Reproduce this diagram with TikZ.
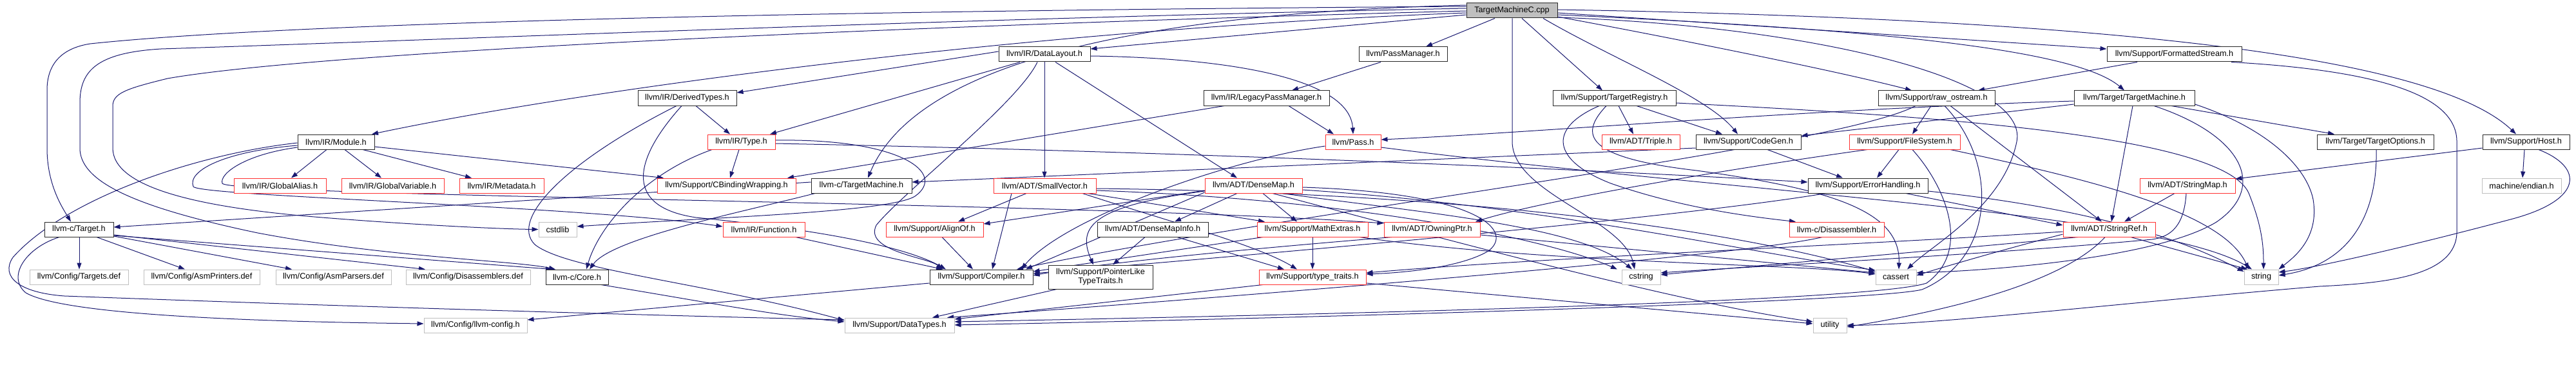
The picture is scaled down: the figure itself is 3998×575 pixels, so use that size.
\documentclass[tikz,border=0pt]{standalone}
\usepackage{fontspec}
\setmainfont{Liberation Sans}
\usetikzlibrary{arrows.meta}
\definecolor{edgec}{RGB}{25,25,112}
\definecolor{nred}{RGB}{255,50,50}
\definecolor{ngray}{RGB}{191,191,191}
\definecolor{nblack}{RGB}{40,40,40}
\pgfdeclarelayer{bg}
\pgfsetlayers{bg,main}
\tikzset{
  bx/.style={draw=nblack, line width=1pt, fill=white, inner sep=0pt, minimum height=23pt,
     font=\fontsize{12.7}{14}\selectfont, align=center},
  rbx/.style={bx, draw=nred},
  gbx/.style={bx, draw=ngray},
  rootbx/.style={bx, fill=ngray},
  ed/.style={draw=edgec, line width=1pt, -{Triangle[length=10pt,width=7pt]}}
}
\begin{document}
\begin{tikzpicture}[x=1pt,y=-1pt]
\useasboundingbox (0,0) rectangle (3998,575);
% row 0
\node[rootbx, minimum width=141] (R) at (2346.5,16.5) {TargetMachineC.cpp};
% row 1
\node[bx, minimum width=142] (DL) at (1621,84.5) {llvm/IR/DataLayout.h};
\node[bx, minimum width=137] (PM) at (2177.5,84.5) {llvm/PassManager.h};
\node[bx, minimum width=209] (FS) at (3374.5,84.5) {llvm/Support/FormattedStream.h};
% row 2
\node[bx, minimum width=153] (DT) at (1066.5,152.5) {llvm/IR/DerivedTypes.h};
\node[bx, minimum width=195] (LPM) at (1965.5,152.5) {llvm/IR/LegacyPassManager.h};
\node[bx, minimum width=191] (TR) at (2505.5,152.5) {llvm/Support/TargetRegistry.h};
\node[bx, minimum width=181] (RO) at (3005.5,152.5) {llvm/Support/raw\_ostream.h};
\node[bx, minimum width=187] (TTM) at (3312.5,152.5) {llvm/Target/TargetMachine.h};
% row 3
\node[bx, minimum width=119] (MOD) at (521.5,220.5) {llvm/IR/Module.h};
\node[rbx, minimum width=105] (TY) at (1150.5,220.5) {llvm/IR/Type.h};
\node[rbx, minimum width=86] (PS) at (2100,220.5) {llvm/Pass.h};
\node[rbx, minimum width=121] (TRI) at (2546.5,220.5) {llvm/ADT/Triple.h};
\node[bx, minimum width=163] (CG) at (2713.5,220.5) {llvm/Support/CodeGen.h};
\node[rbx, minimum width=172] (FSY) at (2956,220.5) {llvm/Support/FileSystem.h};
\node[bx, minimum width=181] (TO) at (3686.5,220.5) {llvm/Target/TargetOptions.h};
\node[bx, minimum width=135] (HO) at (3920.5,220.5) {llvm/Support/Host.h};
% row 4
\node[rbx, minimum width=143] (GA) at (434.5,288.5) {llvm/IR/GlobalAlias.h};
\node[rbx, minimum width=159] (GV) at (609.5,288.5) {llvm/IR/GlobalVariable.h};
\node[rbx, minimum width=131] (MD) at (778.5,288.5) {llvm/IR/Metadata.h};
\node[rbx, minimum width=215] (CB) at (1127.5,288.5) {llvm/Support/CBindingWrapping.h};
\node[bx, minimum width=156] (CTM) at (1337,288.5) {llvm-c/TargetMachine.h};
\node[rbx, minimum width=159] (SV) at (1621.5,288.5) {llvm/ADT/SmallVector.h};
\node[rbx, minimum width=151] (DM) at (1945.5,288.5) {llvm/ADT/DenseMap.h};
\node[bx, minimum width=186] (EH) at (2899,288.5) {llvm/Support/ErrorHandling.h};
\node[rbx, minimum width=148] (SM) at (3395,288.5) {llvm/ADT/StringMap.h};
\node[gbx, minimum width=123] (EN) at (3913.5,288.5) {machine/endian.h};
% row 5
\node[bx, minimum width=107] (CT) at (122.5,356.5) {llvm-c/Target.h};
\node[gbx, minimum width=59] (CSL) at (865.5,356.5) {cstdlib};
\node[rbx, minimum width=127] (FN) at (1185.5,356.5) {llvm/IR/Function.h};
\node[rbx, minimum width=151] (AO) at (1450.5,356.5) {llvm/Support/AlignOf.h};
\node[bx, minimum width=172] (DMI) at (1789,356.5) {llvm/ADT/DenseMapInfo.h};
\node[rbx, minimum width=172] (ME) at (2037,356.5) {llvm/Support/MathExtras.h};
\node[rbx, minimum width=149] (OP) at (2222.5,356.5) {llvm/ADT/OwningPtr.h};
\node[rbx, minimum width=147] (DIS) at (2850.5,356.5) {llvm-c/Disassembler.h};
\node[rbx, minimum width=143] (SR) at (3273.5,356.5) {llvm/ADT/StringRef.h};
% row 6
\node[gbx, minimum width=153] (TD) at (122.5,430.5) {llvm/Config/Targets.def};
\node[gbx, minimum width=180] (AP) at (313,430.5) {llvm/Config/AsmPrinters.def};
\node[gbx, minimum width=179] (APA) at (517.5,430.5) {llvm/Config/AsmParsers.def};
\node[gbx, minimum width=193] (DD) at (726.5,430.5) {llvm/Config/Disassemblers.def};
\node[bx, minimum width=97] (CO) at (895.5,430.5) {llvm-c/Core.h};
\node[bx, minimum width=160] (CMP) at (1523,430.5) {llvm/Support/Compiler.h};
\node[bx, minimum width=162, minimum height=37] (PLT) at (1708,430.5) {llvm/Support/PointerLike\\TypeTraits.h};
\node[rbx, minimum width=166] (TT) at (2037,430.5) {llvm/Support/type\_traits.h};
\node[gbx, minimum width=60] (CS) at (2547,430.5) {cstring};
\node[gbx, minimum width=63] (CA) at (2942.5,430.5) {cassert};
\node[gbx, minimum width=53] (STR) at (3509.5,430.5) {string};
% row 7
\node[gbx, minimum width=160] (LC) at (738,505.5) {llvm/Config/llvm-config.h};
\node[gbx, minimum width=170] (DTY) at (1396,505.5) {llvm/Support/DataTypes.h};
\node[gbx, minimum width=52] (UT) at (2840,505.5) {utility};

\begin{pgfonlayer}{bg}
% root
\draw[ed] (R.west |- 0,10) .. controls (1500,15) and (500,30) .. (140,68) .. controls (95,75) and (73,100) .. (73,140) -- (73,230) .. controls (73,285) and (95,320) .. (CT.north -| 110,0);
\draw[ed] (R.west |- 0,13) .. controls (1500,28) and (600,65) .. (250,76) .. controls (150,82) and (124,110) .. (124,160) -- (124,230) .. controls (124,280) and (200,320) .. (400,362) .. controls (600,400) and (800,405) .. (CO.north -| 862,0);
\draw[ed] (R.west |- 0,17) .. controls (1400,40) and (500,80) .. (260,122) .. controls (195,138) and (175,145) .. (175,165) -- (175,230) .. controls (175,290) and (300,322) .. (500,338) .. controls (650,350) and (780,356) .. (CSL.west);
\draw[ed] (R.west |- 0,20) .. controls (1600,45) and (900,140) .. (MOD.north -| 577,0);
\draw[ed] (R.west |- 0,23) -- (DL.east |- 0,76);
\draw[ed] (R.south -| 2320,0) -- (PM.north -| 2213,0);
\draw[ed] (R.south -| 2362,0) -- (TR.north -| 2487,0);
\draw[ed] (R.south -| 2395,0) .. controls (2500,90) and (2650,150) .. (CG.north -| 2697,0);
\draw[ed] (R.east |- 0,26) .. controls (2600,60) and (2850,110) .. (RO.north -| 2967,0);
\draw[ed] (R.east |- 0,20) -- (FS.west |- 0,76);
\draw[ed] (R.east |- 0,23) .. controls (2900,45) and (3220,75) .. (TTM.north -| 3297,0);
\draw[ed] (R.east |- 0,15) .. controls (3300,30) and (3780,90) .. (HO.north -| 3905,0);
\draw[ed] (R.west |- 0,8) .. controls (1600,25) and (1400,150) .. (CTM.north -| 1347,0);
\draw[ed] (R.east |- 0,27) .. controls (2800,40) and (3150,120) .. (3130,220) .. controls (3110,320) and (3000,380) .. (CA.north -| 2960,0);
\draw[ed] (R.south -| 2347,0) -- (2347,220) .. controls (2347,300) and (2520,340) .. (CS.north -| 2537,0);
% llvm-c/TargetMachine.h
\draw[ed] (CTM.west |- 0,283) -- (CT.east |- 0,353);
\draw[ed] (CTM.south -| 1265,0) .. controls (1150,330) and (950,370) .. (CO.north -| 915,0);
% llvm-c/Target.h
\draw[ed] (CT.east |- 0,366) -- (CO.north -| 857,0);
\draw[ed] (CT.south -| 92,0) .. controls (40,385) and (10,430) .. (40,455) .. controls (100,490) and (400,500) .. (LC.west |- 0,503);
\draw[ed] (CT.south -| 123,0) -- (TD.north -| 123,0);
\draw[ed] (CT.south -| 150,0) -- (AP.north -| 287,0);
\draw[ed] (CT.east |- 0,367) -- (APA.north -| 453,0);
\draw[ed] (CT.east |- 0,365) -- (DD.north -| 660,0);
% llvm-c/Core.h
\draw[ed] (CO.south -| 933,0) .. controls (1100,470) and (1200,490) .. (DTY.west |- 0,500);
% Module
\draw[ed] (MOD.south -| 507,0) -- (GA.north -| 452,0);
\draw[ed] (MOD.south -| 535,0) -- (GV.north -| 592,0);
\draw[ed] (MOD.south -| 563,0) -- (MD.north -| 732,0);
\draw[ed] (MOD.east |- 0,228) -- (CB.north -| 1030,0);
\draw[ed] (MOD.west |- 0,226) .. controls (350,235) and (290,265) .. (300,290) .. controls (310,305) and (900,320) .. (FN.west |- 0,352);
\draw[ed] (MOD.west |- 0,229) .. controls (380,240) and (340,270) .. (345,285) .. controls (355,305) and (1700,315) .. (OP.west |- 0,347);
\draw[ed] (MOD.west |- 0,222) .. controls (300,240) and (100,310) .. (20,400) .. controls (0,430) and (30,455) .. (100,460) .. controls (500,475) and (1000,490) .. (DTY.west |- 0,497);
% DataLayout
\draw[ed] (DL.west |- 0,80) -- (DT.east |- 0,144);
\draw[ed] (DL.south -| 1583,0) -- (TY.north -| 1195,0);
\draw[ed] (DL.south) -- (SV.north -| 1621,0);
\draw[ed] (DL.south -| 1638,0) -- (DM.north -| 1920,0);
\draw[ed] (DL.east |- 0,87) .. controls (1900,90) and (2095,120) .. (PS.north -| 2100,0);
\draw[ed] (DL.south -| 1610,0) .. controls (1580,160) and (1400,300) .. (1360,350) .. controls (1340,390) and (1440,400) .. (CMP.north -| 1463,0);
% DerivedTypes
\draw[ed] (DT.south -| 1080,0) -- (TY.north -| 1133,0);
\draw[ed] (DT.south -| 1050,0) .. controls (880,250) and (790,340) .. (830,380) .. controls (880,420) and (1100,440) .. (DTY.west |- 0,498);
\draw[ed] (DT.south -| 1058,0) .. controls (990,240) and (960,320) .. (1080,338) .. controls (1250,355) and (1400,380) .. (CMP.north -| 1468,0);
% Type
\draw[ed] (TY.south -| 1105,0) .. controls (1000,270) and (930,350) .. (CO.north -| 910,0);
\draw[ed] (TY.south -| 1147,0) -- (CB.north -| 1133,0);
\draw[ed] (TY.east |- 0,223) .. controls (1800,235) and (2400,260) .. (EH.west |- 0,283);
\draw[ed] (TY.east |- 0,218) .. controls (1400,215) and (1470,270) .. (1420,305) .. controls (1380,330) and (1100,338) .. (CSL.east |- 0,352);
% PassManager / Legacy
\draw[ed] (PM.south -| 2143,0) -- (LPM.north -| 2005,0);
\draw[ed] (LPM.south -| 2000,0) -- (PS.north -| 2070,0);
\draw[ed] (LPM.south -| 1900,0) -- (CB.north -| 1222,0);
% Pass
\draw[ed] (PS.west |- 0,227) .. controls (1900,250) and (1650,340) .. (CMP.north -| 1585,0);
\draw[ed] (PS.east |- 0,229) .. controls (2700,300) and (3350,330) .. (STR.north -| 3495,0);
% TargetRegistry
\draw[ed] (TR.south -| 2512,0) -- (TRI.north -| 2535,0);
\draw[ed] (TR.south -| 2540,0) -- (CG.north -| 2673,0);
\draw[ed] (TR.south -| 2482,0) .. controls (2400,200) and (2410,250) .. (2500,285) .. controls (2600,320) and (2700,335) .. (DIS.north -| 2787,0);
\draw[ed] (TR.south -| 2493,0) .. controls (2450,210) and (2460,245) .. (2633,265) .. controls (2850,295) and (2950,330) .. (CA.north -| 2947,0);
\draw[ed] (TR.east |- 0,160) .. controls (3000,180) and (3450,210) .. (3490,300) .. controls (3510,350) and (3513,380) .. (STR.north -| 3513,0);
% raw_ostream
\draw[ed] (RO.south -| 2997,0) -- (FSY.north -| 2968,0);
\draw[ed] (RO.south -| 2973,0) .. controls (2850,230) and (2000,330) .. (CMP.north -| 1578,0);
\draw[ed] (RO.south -| 3018,0) .. controls (3100,250) and (3100,400) .. (2983,450) .. controls (2900,470) and (2000,495) .. (DTY.east |- 0,505);
\draw[ed] (RO.south -| 3027,0) -- (SR.north -| 3262,0);
% FileSystem
\draw[ed] (FSY.south -| 2947,0) -- (EH.north -| 2913,0);
\draw[ed] (FSY.south -| 2968,0) .. controls (3020,290) and (3060,390) .. (2990,440) .. controls (2900,470) and (2000,490) .. (DTY.east |- 0,500);
\draw[ed] (FSY.south -| 2898,0) .. controls (2700,260) and (2400,310) .. (OP.north -| 2290,0);
\draw[ed] (FSY.south -| 3027,0) .. controls (3250,280) and (3450,330) .. (STR.north -| 3490,0);
% ErrorHandling
\draw[ed] (EH.south -| 2833,0) .. controls (2600,340) and (1900,400) .. (CMP.east |- 0,425);
\draw[ed] (EH.south -| 2958,0) -- (SR.west |- 0,350);
\draw[ed] (EH.east |- 0,297) .. controls (3300,330) and (3420,390) .. (STR.west |- 0,422);
% StringMap
\draw[ed] (SM.south -| 3375,0) -- (SR.north -| 3297,0);
\draw[ed] (SM.south -| 3393,0) .. controls (3390,350) and (3370,368) .. (3340,372) .. controls (3100,395) and (2700,415) .. (CS.east |- 0,424);
% Host
\draw[ed] (HO.south -| 3918,0) -- (EN.north -| 3915,0);
\draw[ed] (HO.south -| 3940,0) .. controls (4010,260) and (4010,310) .. (3900,340) .. controls (3750,380) and (3600,415) .. (STR.east |- 0,423);
\draw[ed] (HO.west |- 0,230) -- (SM.east |- 0,278);
% Target/TargetMachine
\draw[ed] (TTM.south -| 3310,0) -- (SR.north -| 3277,0);
\draw[ed] (TTM.west |- 0,157) .. controls (2800,170) and (2400,205) .. (PS.east |- 0,217);
\draw[ed] (TTM.west |- 0,162) -- (CG.east |- 0,211);
\draw[ed] (TTM.south -| 3370,0) -- (TO.north -| 3623,0);
\draw[ed] (TTM.south -| 3343,0) .. controls (3480,210) and (3520,290) .. (3440,345) .. controls (3350,400) and (3100,420) .. (CA.east |- 0,424);
\draw[ed] (TTM.east |- 0,162) .. controls (3520,200) and (3580,260) .. (3590,310) .. controls (3600,370) and (3560,400) .. (STR.north east);
\draw[ed] (TO.south -| 3688,0) .. controls (3690,330) and (3650,410) .. (STR.east |- 0,428);
% FormattedStream
\draw[ed] (FS.south -| 3317,0) -- (RO.north -| 3070,0);
\draw[ed] (FS.south -| 3463,0) .. controls (3700,110) and (3813,150) .. (3813,220) -- (3813,360) .. controls (3813,430) and (3700,440) .. (3600,445) .. controls (3300,470) and (3000,505) .. (UT.east);
% CodeGen
\draw[ed] (CG.west |- 0,230) -- (CTM.east |- 0,283);
\draw[ed] (CG.south -| 2743,0) -- (EH.north -| 2860,0);
% SmallVector
\draw[ed] (SV.south -| 1593,0) -- (AO.north -| 1487,0);
\draw[ed] (SV.south -| 1570,0) -- (CMP.north -| 1540,0);
\draw[ed] (SV.south -| 1688,0) -- (ME.north -| 1963,0);
\draw[ed] (SV.south -| 1680,0) .. controls (1800,340) and (1950,380) .. (TT.north -| 2013,0);
\draw[ed] (SV.east |- 0,293) .. controls (2300,300) and (2700,360) .. (CA.west |- 0,422);
\draw[ed] (SV.east |- 0,296) .. controls (2100,310) and (2400,370) .. (CS.north -| 2510,0);
% DenseMap
\draw[ed] (DM.south -| 1920,0) -- (DMI.north -| 1823,0);
\draw[ed] (DM.west |- 0,296) -- (AO.east |- 0,348);
\draw[ed] (DM.west |- 0,299) -- (CMP.north -| 1592,0);
\draw[ed] (DM.south -| 1960,0) -- (ME.north -| 2013,0);
\draw[ed] (DM.west |- 0,297) .. controls (1700,320) and (1670,350) .. (PLT.north -| 1697,0);
\draw[ed] (DM.east |- 0,291) .. controls (2300,300) and (2350,360) .. (2310,390) .. controls (2260,420) and (2150,425) .. (TT.east |- 0,426);
\draw[ed] (DM.east |- 0,295) .. controls (2400,320) and (2700,390) .. (CA.west |- 0,420);
\draw[ed] (DM.south -| 1990,0) .. controls (2200,330) and (2450,350) .. (CS.north -| 2533,0);
\draw[ed] (DM.south -| 1975,0) .. controls (2200,360) and (2600,470) .. (UT.west |- 0,500);
% DenseMapInfo
\draw[ed] (DMI.south -| 1777,0) -- (PLT.north -| 1727,0);
\draw[ed] (DMI.south -| 1827,0) -- (TT.north -| 1993,0);
% PointerLikeTypeTraits
\draw[ed] (PLT.south -| 1640,0) -- (DTY.north -| 1447,0);
% MathExtras
\draw[ed] (ME.south) -- (TT.north);
\draw[ed] (ME.south -| 1960,0) -- (CMP.east |- 0,422);
\draw[ed] (ME.south -| 2110,0) .. controls (2400,410) and (2800,410) .. (CA.west |- 0,426);
% type_traits
\draw[ed] (TT.south -| 1960,0) -- (DTY.east |- 0,496);
\draw[ed] (TT.east |- 0,440) -- (UT.west |- 0,503);
% OwningPtr
\draw[ed] (OP.south -| 2160,0) .. controls (1900,390) and (1700,410) .. (CMP.east |- 0,428);
\draw[ed] (OP.east |- 0,365) -- (CA.west |- 0,424);
% AlignOf, Compiler, Function
\draw[ed] (AO.south -| 1462,0) -- (CMP.north -| 1510,0);
\draw[ed] (CMP.west |- 0,440) -- (LC.east |- 0,497);
\draw[ed] (FN.south -| 1235,0) -- (CMP.north -| 1463,0);
% Disassembler
\draw[ed] (DIS.south -| 2828,0) .. controls (2700,400) and (1800,470) .. (DTY.north -| 1470,0);
% StringRef
\draw[ed] (SR.west |- 0,360) .. controls (2900,380) and (2400,400) .. (TT.east |- 0,424);
\draw[ed] (SR.south -| 3225,0) .. controls (3000,390) and (2700,415) .. (CS.east |- 0,427);
\draw[ed] (SR.west |- 0,364) .. controls (3100,390) and (3000,420) .. (CA.east |- 0,428);
\draw[ed] (SR.south -| 3307,0) -- (STR.north -| 3488,0);
\draw[ed] (SR.south -| 3267,0) .. controls (3220,420) and (3100,470) .. (UT.east |- 0,508);
\end{pgfonlayer}
\end{tikzpicture}
\end{document}
